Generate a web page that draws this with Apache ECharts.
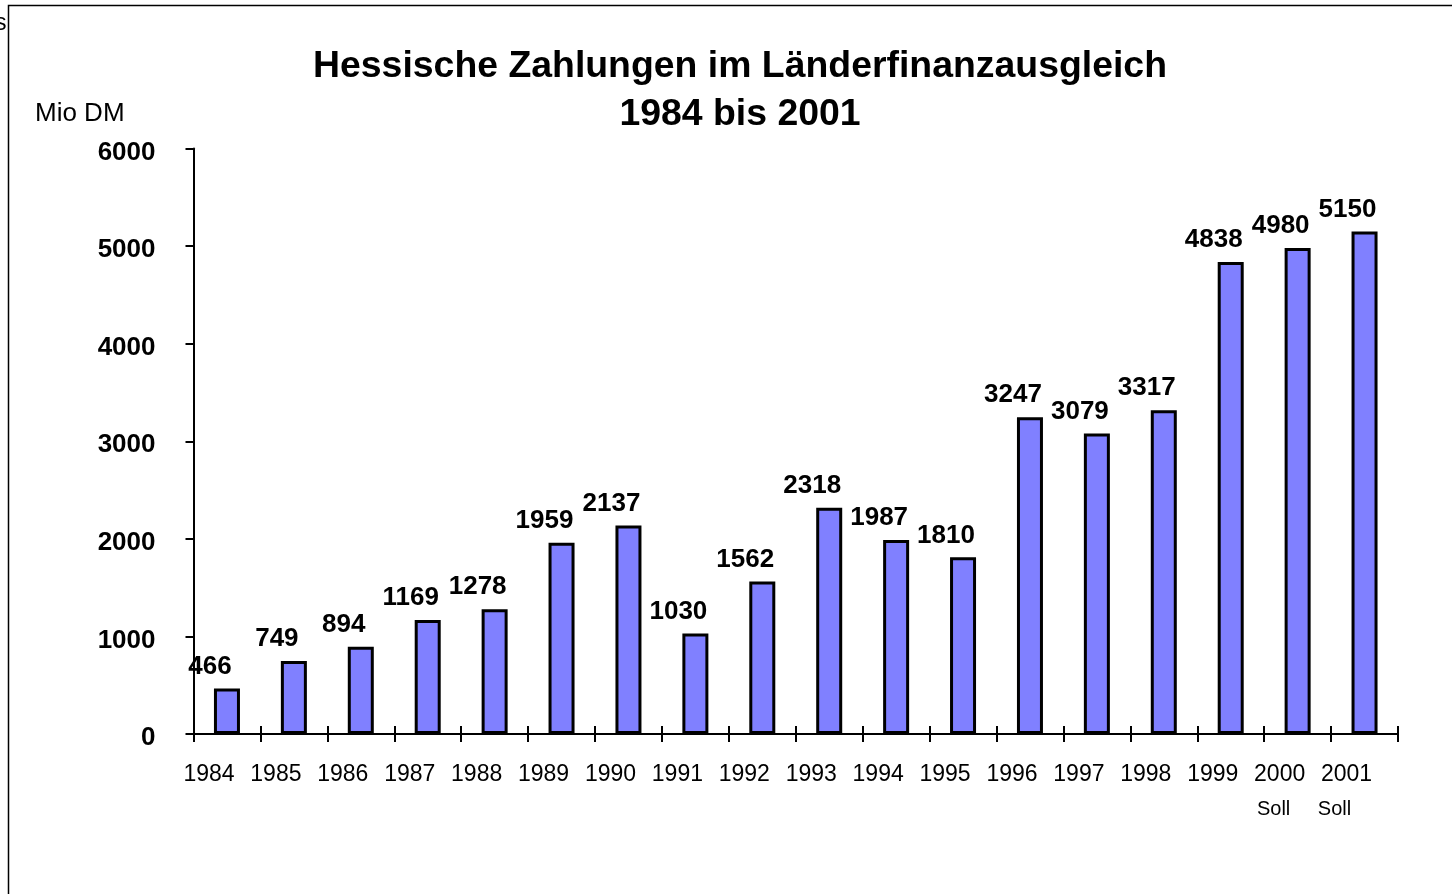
<!DOCTYPE html>
<html>
<head>
<meta charset="utf-8">
<script src="https://cdn.jsdelivr.net/npm/echarts@6/dist/echarts.min.js"></script>
<style>
html,body{margin:0;padding:0;background:#fff;}
#chart{width:1452px;height:894px;}
</style>
</head>
<body>
<div id="chart"></div>
<script>
const years = ["1984","1985","1986","1987","1988","1989","1990","1991","1992","1993","1994","1995","1996","1997","1998","1999","2000","2001"];
const subLabels = ["","","","","","","","","","","","","","","","","Soll","Soll"];
const payments = [466,749,894,1169,1278,1959,2137,1030,1562,2318,1987,1810,3247,3079,3317,4838,4980,5150];
const yTicks = [0,1000,2000,3000,4000,5000,6000];
const titleText = "Hessische Zahlungen im Länderfinanzausgleich\n1984 bis 2001";
const unitText = "Mio DM";

const FONT = "'Liberation Sans', Arial, sans-serif";
const chart = echarts.init(document.getElementById('chart'));

const categories = years.map((y, i) => subLabels[i] ? y + "|" + subLabels[i] : y);

chart.setOption({
  animation: false,
  backgroundColor: '#fff',
  title: {
    text: titleText,
    left: 735,
    top: 38,
    textAlign: 'center',
    textStyle: { fontFamily: FONT, fontSize: 37.4, fontWeight: 'bold', color: '#000', lineHeight: 48 }
  },
  graphic: [
    { type: 'rect', shape: { x: 8.5, y: 5.5, width: 2000, height: 2000 }, style: { fill: 'none', stroke: '#000', lineWidth: 1.5 }, silent: true },
    { type: 'text', left: -5, top: 12, style: { text: 's', font: '23px ' + FONT, fill: '#000' } },
    { type: 'text', left: 35, top: 101, style: { text: unitText, font: '26px ' + FONT, fill: '#000' } }
  ],
  grid: { left: 193.5, right: 54, top: 148.5, bottom: 160, containLabel: false },
  xAxis: [
    {
      type: 'category',
      data: categories,
      boundaryGap: true,
      axisLine: { lineStyle: { color: '#000', width: 2 } },
      axisTick: { show: true, inside: false, length: 8, lineStyle: { color: '#000', width: 2 } },
      axisLabel: {
        margin: 24,
        interval: 0,
        formatter: function (v) {
          const parts = v.split('|');
          if (parts.length > 1) {
            const idx = years.indexOf(parts[0]);
            const st = idx === years.length - 1 ? 's2' : 's1';
            return '{y|' + parts[0] + '}\n{' + st + '|' + parts[1] + '}';
          }
          return '{y|' + v + '}';
        },
        rich: {
          y: { fontFamily: FONT, fontSize: 23, color: '#000', padding: [0, 36, 0, 0], lineHeight: 34 },
          s1: { fontFamily: FONT, fontSize: 20, color: '#000', padding: [0, 48, 0, 0], lineHeight: 34 },
          s2: { fontFamily: FONT, fontSize: 20, color: '#000', padding: [0, 60, 0, 0], lineHeight: 34 }
        }
      }
    },
    {
      type: 'category',
      data: categories,
      position: 'bottom',
      boundaryGap: true,
      axisLine: { show: false },
      axisTick: { show: true, inside: true, length: 8, lineStyle: { color: '#000', width: 2 } },
      axisLabel: { show: false }
    }
  ],
  yAxis: {
    type: 'value',
    min: yTicks[0],
    max: yTicks[yTicks.length - 1],
    interval: yTicks[1] - yTicks[0],
    axisLine: { show: true, lineStyle: { color: '#000', width: 2 } },
    axisTick: { show: true, length: 8, lineStyle: { color: '#000', width: 2 } },
    splitLine: { show: false },
    axisLabel: {
      margin: 38,
      formatter: function (v) { return '{v|' + v + '}'; },
      rich: {
        v: { fontFamily: FONT, fontSize: 26, fontWeight: 'bold', color: '#000', padding: [8, 0, 0, 0] }
      }
    }
  },
  series: [{
    type: 'bar',
    data: payments,
    barWidth: 26,
    itemStyle: { color: '#8080FF', borderColor: '#000', borderWidth: 3 },
    label: {
      show: true,
      position: 'top',
      distance: 9,
      offset: [-17, 0],
      fontFamily: FONT,
      fontSize: 26,
      fontWeight: 'bold',
      color: '#000'
    }
  }]
});
</script>
</body>
</html>
